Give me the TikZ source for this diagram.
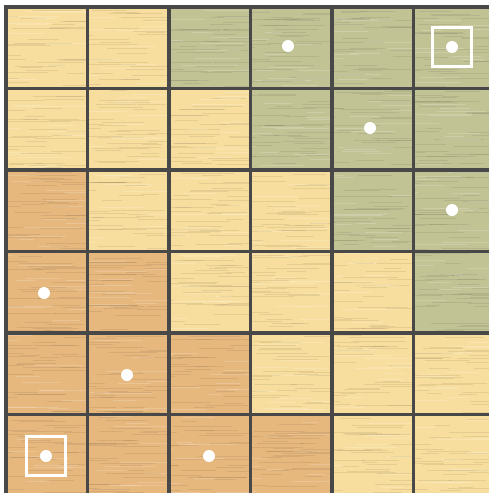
\documentclass[tikz,border=0pt]{standalone}
\definecolor{woodY}{RGB}{248,222,158}
\definecolor{woodG}{RGB}{194,195,148}
\definecolor{woodO}{RGB}{230,184,126}
\definecolor{gridc}{RGB}{72,72,72}
\tikzset{
  gridline/.style={draw=gridc,line width=3.8pt},
  dotmark/.style={circle,fill=white,inner sep=0pt,minimum size=12pt},
  framemark/.style={draw=white,line width=2.8pt,minimum size=39pt,inner sep=0pt},
}
\begin{document}
\begin{tikzpicture}[x=1pt,y=-1pt]
\useasboundingbox (0,0) rectangle (489,493);
\fill[white] (0,0) rectangle (489,493);
\pgfmathsetseed{7}
\foreach \r/\row in {0/{Y,Y,G,G,G,G},1/{Y,Y,Y,G,G,G},2/{O,Y,Y,Y,G,G},3/{O,O,Y,Y,Y,G},4/{O,O,O,Y,Y,Y},5/{O,O,O,O,Y,Y}}{
  \foreach \c [count=\k from 0] in \row {
    \pgfmathsetmacro{\xa}{6+81.5*\k}
    \pgfmathsetmacro{\ya}{7+81.5*\r}
    \pgfmathsetmacro{\xb}{min(489,6+81.5*(\k+1))}
    \pgfmathsetmacro{\yb}{min(493,7+81.5*(\r+1))}
    \fill[wood\c] (\xa,\ya) rectangle (\xb,\yb);
    \begin{scope}
      \clip (\xa,\ya) rectangle (\xb,\yb);
      \foreach \i in {1,...,30}{
        \pgfmathsetmacro{\sy}{\ya+81.5*rnd}
        \pgfmathsetmacro{\sx}{\xa+81.5*rnd-20}
        \pgfmathsetmacro{\sl}{15+45*rnd}
        \draw[black!60!wood\c,line width=0.6pt,opacity=0.12] (\sx,\sy) -- ++(\sl,0);
      }
      \foreach \i in {1,...,12}{
        \pgfmathsetmacro{\sy}{\ya+81.5*rnd}
        \pgfmathsetmacro{\sx}{\xa+81.5*rnd-20}
        \pgfmathsetmacro{\sl}{15+45*rnd}
        \draw[white,line width=0.6pt,opacity=0.18] (\sx,\sy) -- ++(\sl,0);
      }
    \end{scope}
  }
}
% grid lines
\foreach \k in {0,...,5}{
  \draw[gridline] ({6+81.5*\k},5.1) -- ({6+81.5*\k},493);
  \draw[gridline] (4.1,{7+81.5*\k}) -- (489,{7+81.5*\k});
}
% marks
\node[dotmark] (d1) at (288,46) {};
\node[dotmark] (d2) at (452,47) {};
\node[framemark] (f1) at (452,47) {};
\node[dotmark] (d3) at (370,128) {};
\node[dotmark] (d4) at (452,210) {};
\node[dotmark] (d5) at (44,293) {};
\node[dotmark] (d6) at (127,375) {};
\node[dotmark] (d7) at (46,456) {};
\node[framemark] (f2) at (46,456) {};
\node[dotmark] (d8) at (209,456) {};
\end{tikzpicture}
\end{document}
